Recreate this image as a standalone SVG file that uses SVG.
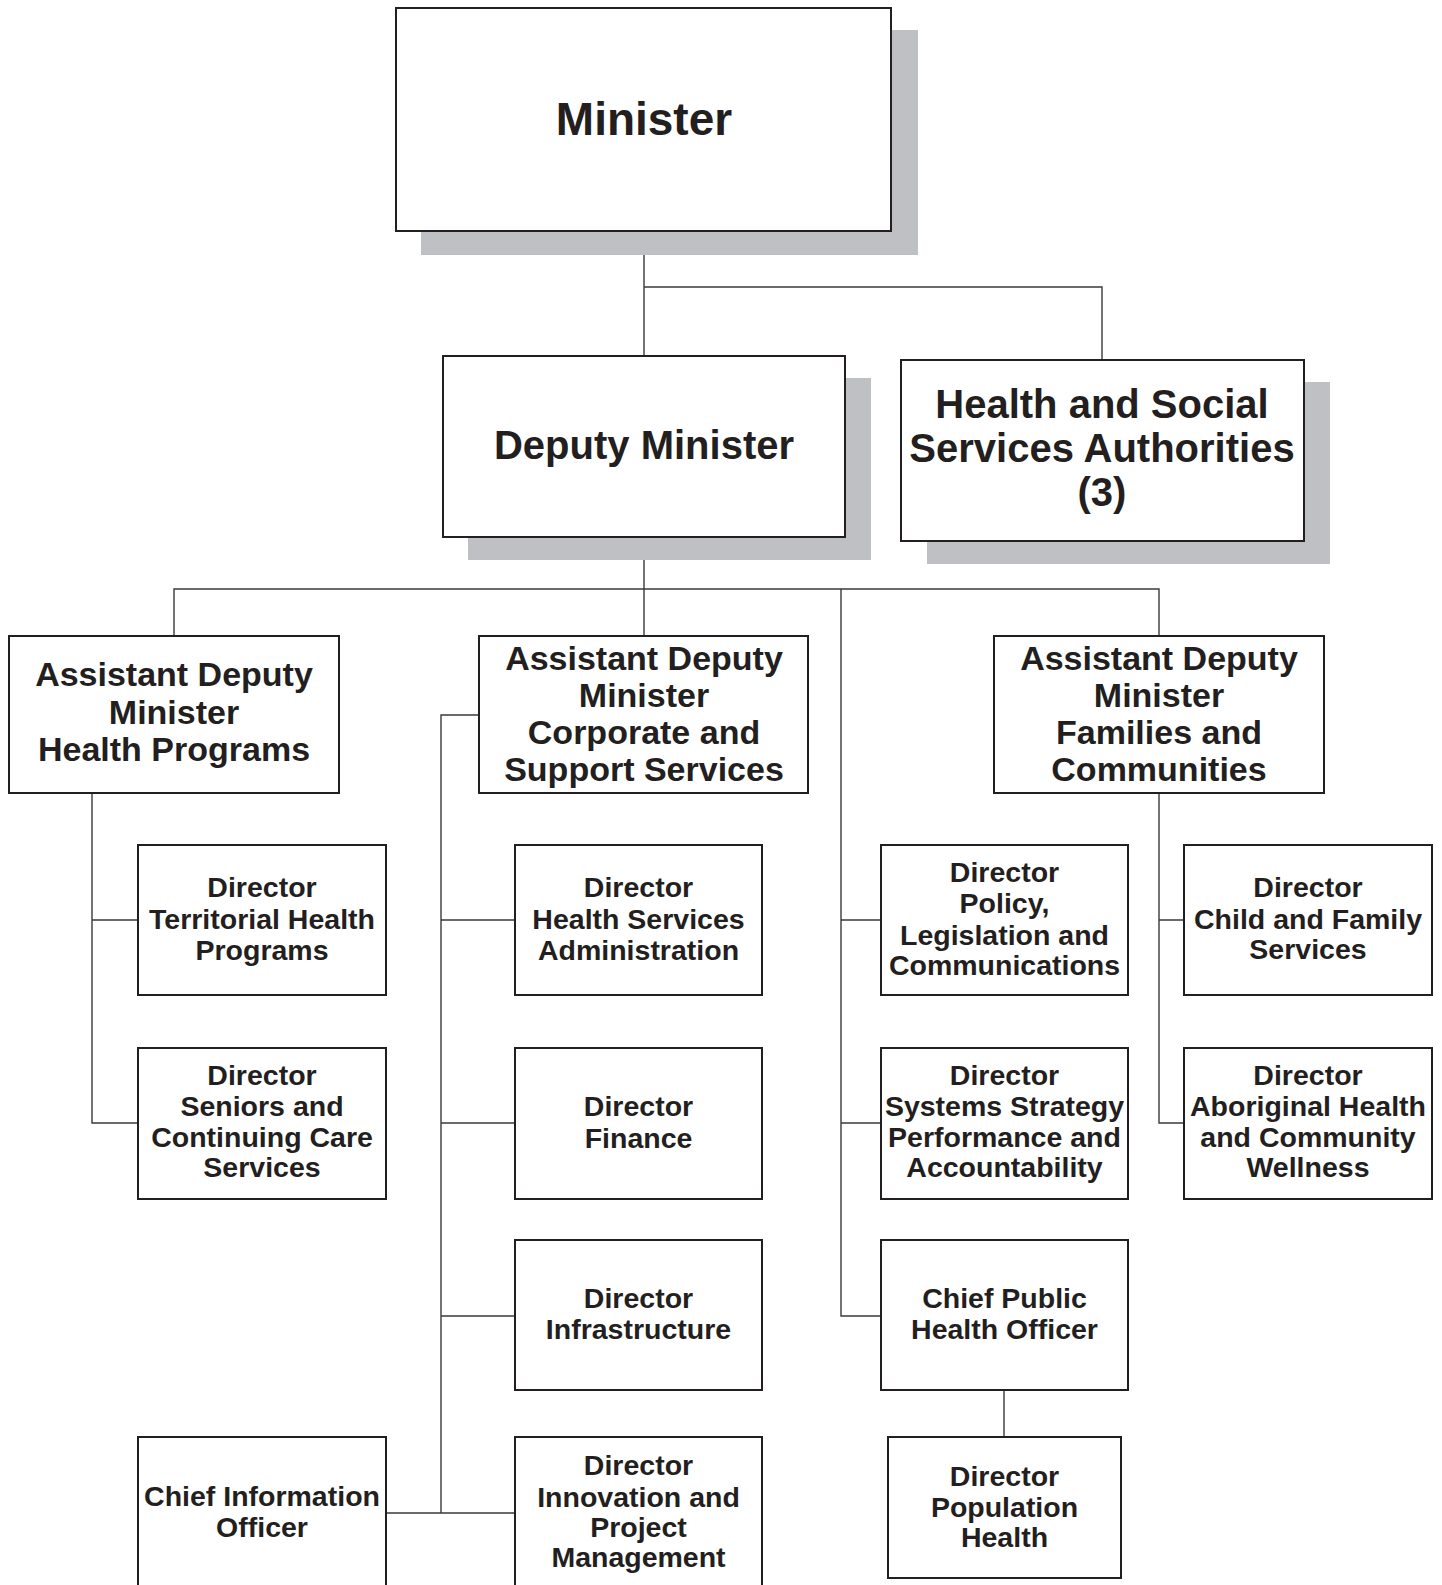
<svg xmlns="http://www.w3.org/2000/svg" width="1442" height="1585" viewBox="0 0 1442 1585">
<style>
.bg{fill:#ffffff}
.box{fill:#ffffff;stroke:#231f20;stroke-width:2}
.sh{fill:#bfc0c3}
.ln{fill:none;stroke:#3a3a3a;stroke-width:1.4}
text{font-family:"Liberation Sans",Arial,sans-serif;font-weight:bold;fill:#231f20;text-anchor:middle}
.t46{font-size:46px}
.t40{font-size:40px}
.t34{font-size:34px}
.t28{font-size:28.5px}
</style>
<rect class="bg" x="0" y="0" width="1442" height="1585"/>
<g id="connectors">
<path class="ln" d="M644 231V356M644 287H1102V360"/>
<path class="ln" d="M644 537V636M174 636V589H1159V636M841 589V1316H881M841 920H881M841 1123H881"/>
<path class="ln" d="M92 793V1123H138M92 920H138"/>
<path class="ln" d="M479 715H441V1513H515M441 920H515M441 1123H515M441 1316H515M386 1513H441"/>
<path class="ln" d="M1159 793V1123H1184M1159 920H1184"/>
<path class="ln" d="M1004 1390V1437"/>
</g>
<g id="minister">
<rect class="sh" x="421" y="30" width="497" height="225"/>
<rect class="box" x="396" y="8" width="495" height="223"/>
<text class="t46" x="644" y="135">Minister</text>
</g>
<g id="deputy-minister">
<rect class="sh" x="468" y="378" width="403" height="182"/>
<rect class="box" x="443" y="356" width="402" height="181"/>
<text class="t40" x="644" y="459">Deputy Minister</text>
</g>
<g id="hssa">
<rect class="sh" x="927" y="382" width="403" height="182"/>
<rect class="box" x="901" y="360" width="403" height="181"/>
<text class="t40" x="1102" y="418">Health and Social</text>
<text class="t40" x="1102" y="462">Services Authorities</text>
<text class="t40" x="1102" y="506">(3)</text>
</g>
<g id="adm-health-programs">
<rect class="box" x="9" y="636" width="330" height="157"/>
<text class="t34" x="174" y="686">Assistant Deputy</text>
<text class="t34" x="174" y="724">Minister</text>
<text class="t34" x="174" y="761">Health Programs</text>
</g>
<g id="adm-corporate">
<rect class="box" x="479" y="636" width="329" height="157"/>
<text class="t34" x="644" y="670">Assistant Deputy</text>
<text class="t34" x="644" y="707">Minister</text>
<text class="t34" x="644" y="744">Corporate and</text>
<text class="t34" x="644" y="781">Support Services</text>
</g>
<g id="adm-families">
<rect class="box" x="994" y="636" width="330" height="157"/>
<text class="t34" x="1159" y="670">Assistant Deputy</text>
<text class="t34" x="1159" y="707">Minister</text>
<text class="t34" x="1159" y="744">Families and</text>
<text class="t34" x="1159" y="781">Communities</text>
</g>
<g id="dir-territorial">
<rect class="box" x="138" y="845" width="248" height="150"/>
<text class="t28" x="262" y="897">Director</text>
<text class="t28" x="262" y="929">Territorial Health</text>
<text class="t28" x="262" y="960">Programs</text>
</g>
<g id="dir-seniors">
<rect class="box" x="138" y="1048" width="248" height="151"/>
<text class="t28" x="262" y="1085">Director</text>
<text class="t28" x="262" y="1116">Seniors and</text>
<text class="t28" x="262" y="1147">Continuing Care</text>
<text class="t28" x="262" y="1177">Services</text>
</g>
<g id="dir-hsa">
<rect class="box" x="515" y="845" width="247" height="150"/>
<text class="t28" x="638.5" y="897">Director</text>
<text class="t28" x="638.5" y="929">Health Services</text>
<text class="t28" x="638.5" y="960">Administration</text>
</g>
<g id="dir-finance">
<rect class="box" x="515" y="1048" width="247" height="151"/>
<text class="t28" x="638.5" y="1116">Director</text>
<text class="t28" x="638.5" y="1148">Finance</text>
</g>
<g id="dir-infrastructure">
<rect class="box" x="515" y="1240" width="247" height="150"/>
<text class="t28" x="638.5" y="1308">Director</text>
<text class="t28" x="638.5" y="1339">Infrastructure</text>
</g>
<g id="dir-innovation">
<rect class="box" x="515" y="1437" width="247" height="152"/>
<text class="t28" x="638.5" y="1475">Director</text>
<text class="t28" x="638.5" y="1507">Innovation and</text>
<text class="t28" x="638.5" y="1537">Project</text>
<text class="t28" x="638.5" y="1567">Management</text>
</g>
<g id="cio">
<rect class="box" x="138" y="1437" width="248" height="152"/>
<text class="t28" x="262" y="1506">Chief Information</text>
<text class="t28" x="262" y="1537">Officer</text>
</g>
<g id="dir-policy">
<rect class="box" x="881" y="845" width="247" height="150"/>
<text class="t28" x="1004.5" y="882">Director</text>
<text class="t28" x="1004.5" y="913">Policy,</text>
<text class="t28" x="1004.5" y="945">Legislation and</text>
<text class="t28" x="1004.5" y="975">Communications</text>
</g>
<g id="dir-systems">
<rect class="box" x="881" y="1048" width="247" height="151"/>
<text class="t28" x="1004.5" y="1085">Director</text>
<text class="t28" x="1004.5" y="1116">Systems Strategy</text>
<text class="t28" x="1004.5" y="1147">Performance and</text>
<text class="t28" x="1004.5" y="1177">Accountability</text>
</g>
<g id="cpho">
<rect class="box" x="881" y="1240" width="247" height="150"/>
<text class="t28" x="1004.5" y="1308">Chief Public</text>
<text class="t28" x="1004.5" y="1339">Health Officer</text>
</g>
<g id="dir-population">
<rect class="box" x="888" y="1437" width="233" height="141"/>
<text class="t28" x="1004.5" y="1486">Director</text>
<text class="t28" x="1004.5" y="1517">Population</text>
<text class="t28" x="1004.5" y="1547">Health</text>
</g>
<g id="dir-child">
<rect class="box" x="1184" y="845" width="248" height="150"/>
<text class="t28" x="1308" y="897">Director</text>
<text class="t28" x="1308" y="929">Child and Family</text>
<text class="t28" x="1308" y="959">Services</text>
</g>
<g id="dir-aboriginal">
<rect class="box" x="1184" y="1048" width="248" height="151"/>
<text class="t28" x="1308" y="1085">Director</text>
<text class="t28" x="1308" y="1116">Aboriginal Health</text>
<text class="t28" x="1308" y="1147">and Community</text>
<text class="t28" x="1308" y="1177">Wellness</text>
</g>
</svg>
